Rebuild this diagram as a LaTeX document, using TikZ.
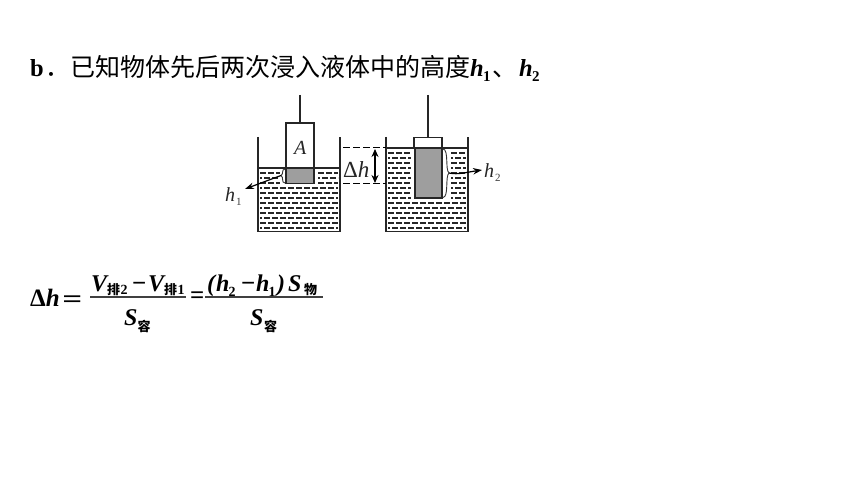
\documentclass[tikz,border=0pt]{standalone}
\usepackage{fontspec}
\setmainfont{Liberation Serif}
\newfontfamily\cjk{Noto Sans CJK SC}
\usetikzlibrary{arrows.meta}
\tikzset{
  wall/.style={line width=1.5pt,black!85},
  liq/.style={line width=1.05pt,black!85,dash pattern=on 6pt off 2pt},
  liqb/.style={liq,dash phase=4pt},
  surf/.style={line width=1.2pt,black!85},
  block/.style={line width=1.3pt,black!85},
  grey/.style={fill=black!38,draw=black!85,line width=1.3pt},
  txt/.style={inner sep=0pt,anchor=base west},
  lead/.style={line width=1.2pt,black,-{Stealth[length=9pt,width=6.5pt]}},
  dim/.style={line width=1.4pt,black,{Stealth[length=8pt,width=7pt]}-{Stealth[length=8pt,width=7pt]}},
  dsh/.style={line width=1pt,black,dash pattern=on 7pt off 3pt},
  lab/.style={txt,text=black!85,font=\fontsize{20}{20}\selectfont\itshape},
  sub/.style={txt,text=black!75,font=\fontsize{11}{11}\selectfont},
  head/.style={txt,font=\fontsize{24.5}{24.5}\selectfont\bfseries},
  heads/.style={txt,font=\fontsize{24.5}{24.5}\selectfont\bfseries\itshape},
  hcjk/.style={txt,font=\fontsize{25}{25}\selectfont\cjk},
  hsub/.style={txt,font=\fontsize{15}{15}\selectfont\bfseries},
  fm/.style={txt,font=\fontsize{24}{24}\selectfont\bfseries\itshape},
  fu/.style={txt,font=\fontsize{25}{25}\selectfont\bfseries},
  fs/.style={txt,font=\fontsize{14}{14}\selectfont\bfseries},
  fc/.style={txt,font=\fontsize{13}{13}\selectfont\cjk\bfseries},
}
\begin{document}
\begin{tikzpicture}[x=1pt,y=-1pt]
\useasboundingbox (0,0) rectangle (860,484);
\fill[white] (0,0) rectangle (860,484);
% heading
\node[head] (hb) at (30,77) {b};
\node[hcjk] (hdot) at (45,77) {．};
\node[hcjk] (ht) at (70,77) {已知物体先后两次浸入液体中的高度};
\node[heads] (hh1) at (470,77) {h};
\node[hsub] (hs1) at (483,82) {1};
\node[hcjk] (hsep) at (492,77) {、};
\node[heads] (hh2) at (519,77) {h};
\node[hsub] (hs2) at (532,82) {2};
% left beaker liquid dashes
\foreach \y/\s in {173/liq,178/liqb,183/liq}{
  \draw[\s] (260,\y) -- (282,\y);
  \draw[\s] (318,\y) -- (338,\y);
}
\foreach \y/\s in {188/liqb,193/liq,198/liqb,203/liq,208/liqb,213/liq,218/liqb,223/liq,228/liqb}{ \draw[\s] (260,\y) -- (338,\y); }
\draw[surf] (258,168) -- (340,168);
\draw[wall] (258,137) -- (258,231.5) -- (340,231.5) -- (340,137);
\fill[white] (286,123) rectangle (314,168);
\draw[block] (286,168) -- (286,123) -- (314,123) -- (314,168);
\draw[grey] (286,168) rectangle (314,183.5);
\draw[block] (300,95) -- (300,123);
\node[lab] (lA) at (294,155) {A};
% left bracket
\fill[white] (280,168.6) rectangle (285,184);
\draw[line width=0.9pt,black!80] (285,169) .. controls (281,169.5) and (284,174) .. (281,175.5) .. controls (284,177) and (281,183) .. (285,183);
\coordinate (t1) at (281,175.5);
\node[lab] (lh1) at (225,201) {h};
\node[sub] (ls1) at (236,206) {1};
\coordinate (a1) at (245,189);
\draw[lead] (t1) -- (a1);
% right beaker liquid dashes
\foreach \y/\s in {153/liq,158/liqb,163/liq,168/liqb,173/liq,178/liqb,183/liq,188/liqb,193/liq,198/liqb}{
  \draw[\s] (388,\y) -- (411,\y);
  \draw[\s] (451,\y) -- (466,\y);
}
\foreach \y/\s in {203/liq,208/liqb,213/liq,218/liqb,223/liq,228/liqb}{ \draw[\s] (388,\y) -- (466,\y); }
\draw[surf] (386,148) -- (468,148);
\draw[wall] (386,137) -- (386,231.5) -- (468,231.5) -- (468,137);
\fill[white] (414,137) rectangle (442,147.5);
\draw[block] (414,148) -- (414,137.5) -- (442,137.5) -- (442,148);
\draw[grey] (415,148) rectangle (442,198);
\draw[block] (428,95) -- (428,137);
% right bracket
\fill[white] (443,148.7) rectangle (449,198);
\draw[line width=0.9pt,black!80] (443,149) .. controls (449,149.5) and (445,170) .. (449,173) .. controls (445,176) and (449,197) .. (443,197.5);
\coordinate (t2) at (449,173);
\node[lab] (lh2) at (484,178) {h};
\node[sub] (ls2) at (495,182) {2};
\coordinate (a2) at (482,170);
\draw[lead] (t2) .. controls (458,175) and (468,172) .. (a2);
% delta h
\draw[dsh] (343,148) -- (386,148);
\draw[dsh] (343,183.5) -- (386,183.5);
\coordinate (d1) at (375,149);
\coordinate (d2) at (375,183);
\draw[dim] (d1) -- (d2);
\node[lab,font=\fontsize{23}{23}\selectfont] (ld) at (343,178) {Δ\textit{h}};
% formula
\node[fu] (fd) at (30,306) {Δ\textit{h}};
\node[fu,xscale=1.4,anchor=base west] (fe) at (62,307) {=};
\node[fm] (fv1) at (91,291) {V};
\node[fc] (fp1) at (107,294) {排};
\node[fs] (f21) at (120.5,294) {2};
\node[fu] (fmi) at (132,291) {−};
\node[fm] (fv2) at (148,291) {V};
\node[fc] (fp2) at (164,294) {排};
\node[fs] (f22) at (177.5,294) {1};
\draw[line width=1.2pt,black!75] (90,297) -- (186,297);
\node[fm] (fs1) at (124,325) {S};
\node[fc] (fr1) at (137.5,331) {容};
\node[fu] (feq) at (190,303) {=};
\node[fm] (fo) at (207,291) {(};
\node[fm] (fn) at (216,291) {h};
\node[fs] (fn2) at (228.5,296) {2};
\node[fu] (fmi2) at (241,291) {−};
\node[fm] (fh1) at (256,291) {h};
\node[fs] (fn1) at (268.5,296) {1};
\node[fm] (fS) at (277,291) {)};
\node[fm] (fSS) at (288,291) {S};
\node[fc] (fw) at (304,294) {物};
\draw[line width=1.2pt,black!75] (205,297) -- (323,297);
\node[fm] (fs2) at (250,325) {S};
\node[fc] (fr2) at (264,331) {容};
\end{tikzpicture}
\end{document}
